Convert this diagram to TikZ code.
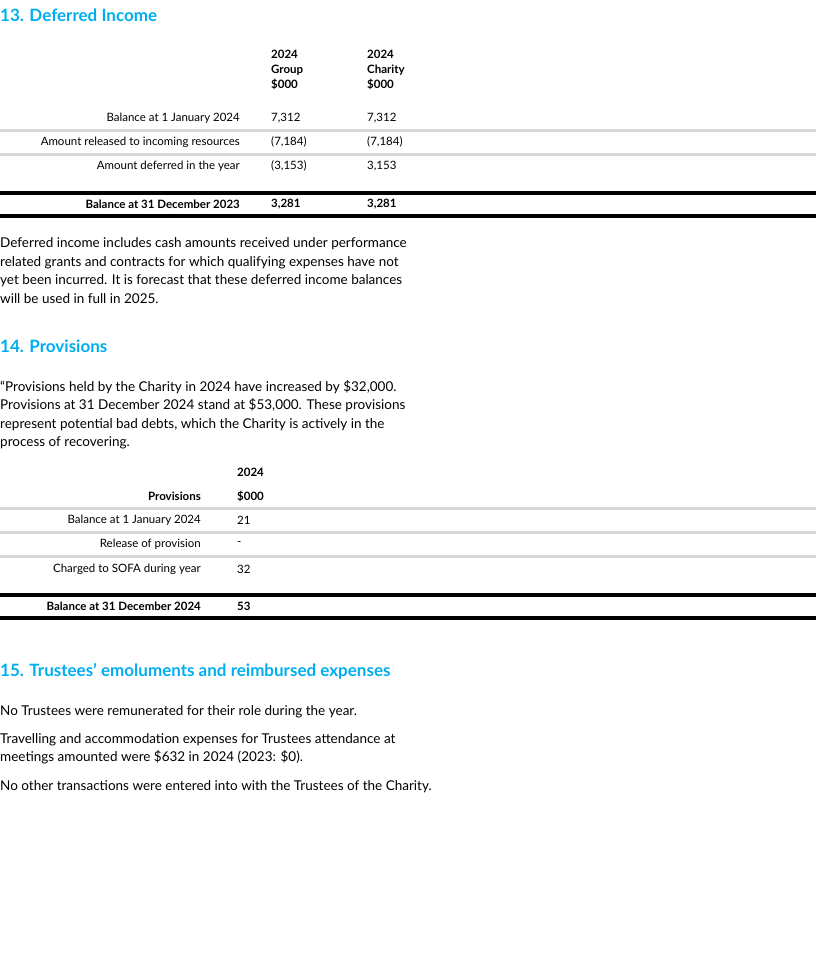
\documentclass[tikz,border=0pt]{standalone}
\usepackage{fontspec}
\setmainfont{Lato}
\definecolor{headcyan}{RGB}{0,174,239}
\definecolor{rulegray}{RGB}{215,215,215}
\tikzset{
  head/.style={anchor=west,inner sep=0pt,text=headcyan,font=\fontsize{17}{20}\selectfont\bfseries},
  body/.style={anchor=west,inner sep=0pt,font=\fontsize{13.5}{18.5}\selectfont},
  lab/.style={anchor=east,inner sep=0pt,font=\fontsize{11.5}{14}\selectfont},
  num/.style={anchor=west,inner sep=0pt,font=\fontsize{11.5}{14}\selectfont},
  thin/.style={rulegray,line width=3pt},
  thick/.style={black,line width=4pt}
}
\begin{document}
\begin{tikzpicture}[x=1pt,y=-1pt]
  \useasboundingbox (0,0) rectangle (816,960);
  % deferred income
  \node[head] (h13) at (0,15) {13. Deferred Income};
  \node[num,font=\fontsize{11.5}{15}\selectfont\bfseries,align=left] (c1) at (271,70) {2024\\Group\\\$000};
  \node[num,font=\fontsize{11.5}{15}\selectfont\bfseries,align=left] (c2) at (367,70) {2024\\Charity\\\$000};
  \node[lab] (r1) at (240,118) {Balance at 1 January 2024};
  \node[num] (r1a) at (271,118) {7,312};
  \node[num] (r1b) at (367,118) {7,312};
  \node[lab] (r2) at (240,142) {Amount released to incoming resources};
  \node[num] (r2a) at (271,142) {(7,184)};
  \node[num] (r2b) at (367,142) {(7,184)};
  \node[lab] (r3) at (240,166) {Amount deferred in the year};
  \node[num] (r3a) at (271,166) {(3,153)};
  \node[num] (r3b) at (367,166) {3,153};
  \node[lab,font=\fontsize{11.5}{14}\selectfont\bfseries] (r4) at (240,204) {Balance at 31 December 2023};
  \node[num,font=\fontsize{11.5}{14}\selectfont\bfseries] (r4a) at (271,204) {3,281};
  \node[num,font=\fontsize{11.5}{14}\selectfont\bfseries] (r4b) at (367,204) {3,281};
  \draw[thin] (0,130.5) -- (816,130.5);
  \draw[thin] (0,154.5) -- (816,154.5);
  \draw[thick] (0,193) -- (816,193);
  \draw[thick] (0,215.5) -- (816,215.5);
  \node[body,align=left] (t13) at (0,270.5) {Deferred income includes cash amounts received under performance\\related grants and contracts for which qualifying expenses have not\\yet been incurred. It is forecast that these deferred income balances\\will be used in full in 2025.};
  % provisions
  \node[head] (h14) at (0,346) {14. Provisions};
  \node[body,align=left] (t14) at (0,414.5) {“Provisions held by the Charity in 2024 have increased by \$32,000.\\Provisions at 31 December 2024 stand at \$53,000. These provisions\\represent potential bad debts, which the Charity is actively in the\\process of recovering.};
  \node[num,font=\fontsize{11.5}{14}\selectfont\bfseries] (p0) at (237,472) {2024};
  \node[lab,font=\fontsize{11.5}{14}\selectfont\bfseries] (p1) at (201,496) {Provisions};
  \node[num,font=\fontsize{11.5}{14}\selectfont\bfseries] (p1a) at (237,496) {\$000};
  \node[lab] (p2) at (201,520) {Balance at 1 January 2024};
  \node[num] (p2a) at (237,520) {21};
  \node[lab] (p3) at (201,544) {Release of provision};
  \node[num] (p3a) at (237,544) {-};
  \node[lab] (p4) at (201,569) {Charged to SOFA during year};
  \node[num] (p4a) at (237,569) {32};
  \node[lab,font=\fontsize{11.5}{14}\selectfont\bfseries] (p5) at (201,606) {Balance at 31 December 2024};
  \node[num,font=\fontsize{11.5}{14}\selectfont\bfseries] (p5a) at (237,606) {53};
  \draw[thin] (0,508.5) -- (816,508.5);
  \draw[thin] (0,532.5) -- (816,532.5);
  \draw[thin] (0,556.5) -- (816,556.5);
  \draw[thick] (0,595) -- (816,595);
  \draw[thick] (0,617.5) -- (816,617.5);
  % trustees
  \node[head] (h15) at (0,671) {15. Trustees’ emoluments and reimbursed expenses};
  \node[body] (t15a) at (0,712) {No Trustees were remunerated for their role during the year.};
  \node[body,align=left] (t15b) at (0,749) {Travelling and accommodation expenses for Trustees attendance at\\meetings amounted were \$632 in 2024 (2023: \$0).};
  \node[body] (t15c) at (0,787) {No other transactions were entered into with the Trustees of the Charity.};
\end{tikzpicture}
\end{document}
